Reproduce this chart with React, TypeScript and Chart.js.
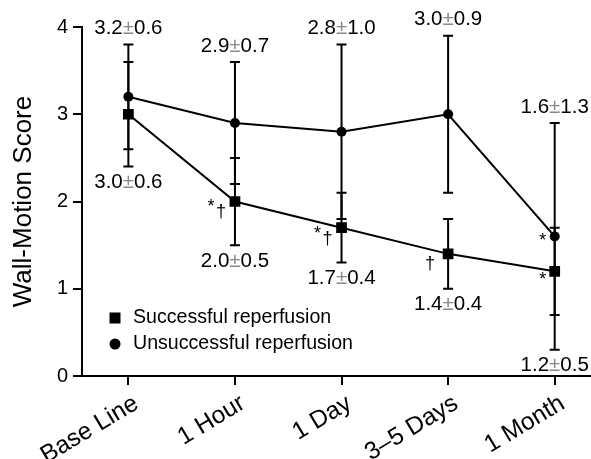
import React, { useEffect, useRef } from "react";
import { Chart, registerables } from "chart.js";

Chart.register(...registerables);

const categories = ["Base Line", "1 Hour", "1 Day", "3–5 Days", "1 Month"];
const successfulMean = [3.0, 2.0, 1.7, 1.4, 1.2];
const successfulSD = [0.6, 0.5, 0.4, 0.4, 0.5];
const unsuccessfulMean = [3.2, 2.9, 2.8, 3.0, 1.6];
const unsuccessfulSD = [0.6, 0.7, 1.0, 0.9, 1.3];
const successfulMarks = ["", "*†", "*†", "†", "*"];
const unsuccessfulMarks = ["", "", "", "", "*"];
const yTicks = [0, 1, 2, 3, 4];
const seriesNames = ["Successful reperfusion", "Unsuccessful reperfusion"];

const FONT = "'Liberation Sans', Arial, Helvetica, sans-serif";

function drawLabel(ctx: CanvasRenderingContext2D, text: string, cx: number, cy: number) {
  const parts = text.split("±");
  ctx.font = `20.5px ${FONT}`;
  const w0 = ctx.measureText(parts[0]).width;
  const wpm = ctx.measureText("±").width;
  const w1 = ctx.measureText(parts[1]).width;
  const total = w0 + wpm + w1;
  let x = cx - total / 2;
  ctx.textAlign = "left";
  ctx.textBaseline = "middle";
  ctx.fillStyle = "#000";
  ctx.fillText(parts[0], x, cy);
  x += w0;
  ctx.fillStyle = "#8a8a8a";
  ctx.fillText("±", x, cy);
  x += wpm;
  ctx.fillStyle = "#000";
  ctx.fillText(parts[1], x, cy);
}

function drawMarks(ctx: CanvasRenderingContext2D, mark: string, px: number, py: number, starDy: number) {
  if (!mark) return;
  ctx.fillStyle = "#000";
  ctx.textAlign = "center";
  ctx.textBaseline = "middle";
  ctx.font = `18px ${FONT}`;
  if (mark.includes("†")) {
    if (mark.includes("*")) {
      ctx.fillText("†", px - 14, py + 11);
      ctx.fillText("*", px - 24, py + 6);
    } else {
      ctx.fillText("†", px - 18, py + 10);
    }
  } else if (mark.includes("*")) {
    ctx.fillText("*", px - 12, py + starDy);
  }
}

const overlayPlugin = {
  id: "overlay",
  beforeDatasetsDraw(chart: any) {
    const ctx: CanvasRenderingContext2D = chart.ctx;
    const xs = chart.scales.x;
    const ys = chart.scales.y;
    ctx.save();
    ctx.strokeStyle = "#000";
    ctx.lineWidth = 2;
    const groups: [number[], number[]][] = [
      [unsuccessfulMean, unsuccessfulSD],
      [successfulMean, successfulSD],
    ];
    groups.forEach(([m, s]) => {
      m.forEach((v, i) => {
        const x = xs.getPixelForValue(i);
        const yt = ys.getPixelForValue(v + s[i]);
        const yb = ys.getPixelForValue(v - s[i]);
        ctx.beginPath();
        ctx.moveTo(x, yt);
        ctx.lineTo(x, yb);
        ctx.moveTo(x - 5, yt);
        ctx.lineTo(x + 5, yt);
        ctx.moveTo(x - 5, yb);
        ctx.lineTo(x + 5, yb);
        ctx.stroke();
      });
    });
    ctx.restore();
  },
  afterDatasetsDraw(chart: any) {
    const ctx: CanvasRenderingContext2D = chart.ctx;
    const xs = chart.scales.x;
    const ys = chart.scales.y;
    const area = chart.chartArea;
    ctx.save();
    categories.forEach((_, i) => {
      const x = xs.getPixelForValue(i);
      const topVal = Math.max(unsuccessfulMean[i] + unsuccessfulSD[i], successfulMean[i] + successfulSD[i]);
      const botVal = Math.min(unsuccessfulMean[i] - unsuccessfulSD[i], successfulMean[i] - successfulSD[i]);
      drawLabel(ctx, `${unsuccessfulMean[i].toFixed(1)}±${unsuccessfulSD[i].toFixed(1)}`, x, ys.getPixelForValue(topVal) - 16);
      drawLabel(ctx, `${successfulMean[i].toFixed(1)}±${successfulSD[i].toFixed(1)}`, x, ys.getPixelForValue(botVal) + 16);
      drawMarks(ctx, successfulMarks[i], x, ys.getPixelForValue(successfulMean[i]), 9);
      drawMarks(ctx, unsuccessfulMarks[i], x, ys.getPixelForValue(unsuccessfulMean[i]), 5);
    });
    // legend
    const lx = area.left + 33;
    const ly1 = area.bottom - 58;
    const ly2 = area.bottom - 32;
    ctx.fillStyle = "#000";
    ctx.fillRect(lx - 5.5, ly1 - 5.5, 11, 11);
    ctx.beginPath();
    ctx.arc(lx, ly2, 5.5, 0, Math.PI * 2);
    ctx.fill();
    ctx.font = `19.6px ${FONT}`;
    ctx.textAlign = "left";
    ctx.textBaseline = "middle";
    ctx.fillText(seriesNames[0], lx + 18, ly1);
    ctx.fillText(seriesNames[1], lx + 18, ly2);
    ctx.restore();
  },
};

export default function App() {
  const ref = useRef<HTMLCanvasElement | null>(null);
  useEffect(() => {
    if (!ref.current) return;
    const chart = new Chart(ref.current, {
      type: "line",
      data: {
        datasets: [
          {
            label: seriesNames[0],
            data: successfulMean.map((v, i) => ({ x: i, y: v })),
            borderColor: "#000",
            backgroundColor: "#000",
            borderWidth: 2,
            pointStyle: "rect",
            pointRadius: 7.6,
            pointBorderWidth: 0,
          },
          {
            label: seriesNames[1],
            data: unsuccessfulMean.map((v, i) => ({ x: i, y: v })),
            borderColor: "#000",
            backgroundColor: "#000",
            borderWidth: 2,
            pointStyle: "circle",
            pointRadius: 5,
            pointBorderWidth: 0,
          },
        ],
      },
      options: {
        animation: false,
        responsive: false,
        maintainAspectRatio: false,
        layout: { padding: { top: 27, left: 8, right: 0, bottom: 0 } },
        plugins: { legend: { display: false }, tooltip: { enabled: false } },
        scales: {
          x: {
            type: "linear",
            min: -0.435,
            max: 4.335,
            afterBuildTicks: (axis: any) => {
              axis.ticks = categories.map((_, i) => ({ value: i }));
            },
            afterFit: (scale: any) => {
              scale.height = 83;
            },
            ticks: {
              autoSkip: false,
              maxRotation: 31,
              minRotation: 31,
              padding: 4,
              labelOffset: 8,
              color: "#000",
              font: { family: FONT, size: 24.5 },
              callback: (v: any) => categories[v as number] ?? "",
            },
            grid: {
              display: true,
              drawOnChartArea: false,
              drawTicks: true,
              tickLength: 9,
              tickWidth: 2,
              tickColor: "#000",
              color: "#000",
              lineWidth: 2,
            },
            border: { display: true, color: "#000", width: 2 },
          },
          y: {
            type: "linear",
            min: 0,
            max: 4,
            afterBuildTicks: (axis: any) => {
              axis.ticks = yTicks.map((v) => ({ value: v }));
            },
            afterFit: (scale: any) => {
              scale.width = 74;
            },
            ticks: {
              padding: 5,
              color: "#000",
              font: { family: FONT, size: 20 },
            },
            title: {
              display: true,
              text: "Wall-Motion Score",
              color: "#000",
              font: { family: FONT, size: 26 },
              padding: { top: 0, bottom: 0 },
            },
            grid: {
              display: true,
              drawOnChartArea: false,
              drawTicks: true,
              tickLength: 9,
              tickWidth: 2,
              tickColor: "#000",
              color: "#000",
              lineWidth: 2,
            },
            border: { display: true, color: "#000", width: 2 },
          },
        },
      },
      plugins: [overlayPlugin],
    });
    return () => chart.destroy();
  }, []);
  return (
    <div style={{ position: "fixed", left: 0, top: 0, width: 591, height: 459, overflow: "hidden", background: "#fff" }}>
      <canvas ref={ref} width={598} height={459} style={{ display: "block", width: 598, height: 459 }} />
    </div>
  );
}
